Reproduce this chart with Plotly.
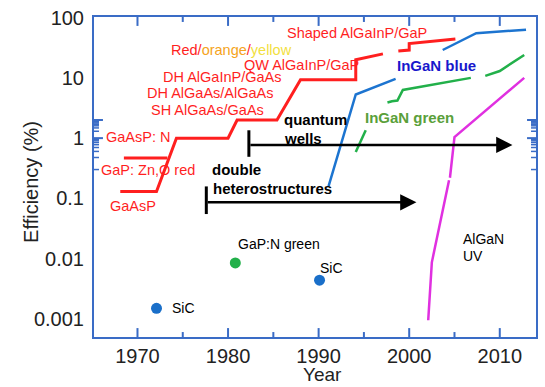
import math
import plotly.graph_objects as go

# ---------------- data ----------------
red_x = [1968.1, 1972.1, 1974.3, 1980.0, 1981.0, 1985.4, 1988.0, 1994.1, 1994.1, 1997.1, None, 1998.8, 2000.0, 2000.0, 2005.1]
red_y = [0.13, 0.13, 1.0, 1.0, 2.0, 2.0, 9.3, 9.3, 20, 25, None, 28, 29, 37, 44]

redo_x = [1968.5, 1973.3]
redo_y = [0.47, 0.47]

blue_x = [1991.1, 1994.1, 1998.5, None, 2003.7, 2007.4, 2012.9]
blue_y = [0.16, 5.3, 9.6, None, 29, 55, 63]

green_x = [1994.1, 1995.2, None, 1997.6, 1998.1, 1998.7, 1999.3, 2006.8, None, 2008.4, 2010.0, 2012.7]
green_y = [0.59, 1.35, None, 3.9, 4.1, 4.2, 6.3, 10, None, 10.8, 13, 24]

uv_x = [2002.1, 2002.5, 2004.4, None, 2004.5, 2005.0, 2012.7]
uv_y = [0.00095, 0.0087, 0.2, None, 0.22, 1.04, 10]

sic_x = [1972.1, 1990.1]
sic_y = [0.0015, 0.0044]
gapn_x = [1980.8]
gapn_y = [0.0085]

ytick_vals = [0.001, 0.01, 0.1, 1, 10, 100]
ytick_text = ["0.001", "0.01", "0.1", "1", "10", "100"]
yminor_vals = [0.0006, 0.0007, 0.0008, 0.0009,
               0.002, 0.003, 0.004, 0.005, 0.006, 0.007, 0.008, 0.009,
               0.02, 0.03, 0.04, 0.05, 0.06, 0.07, 0.08, 0.09,
               0.2, 0.3, 0.4, 0.5, 0.6, 0.7, 0.8, 0.9,
               2, 3, 4, 5, 6, 7, 8, 9,
               20, 30, 40, 50, 60, 70, 80, 90]
xtick_vals = [1970, 1980, 1990, 2000, 2010]
xminor_vals = [1975, 1985, 1995, 2005]

# arrows: (bar x, bar y0, bar y1, arrow y, arrow end x)
dh_arrow = (1977.6, 0.055, 0.158, 0.086, 2000.8)
qw_arrow = (1982.3, 0.49, 1.35, 0.77, 2011.4)

AX = "#3a6cc6"
RED = "#ff1f1f"
L = math.log10
PW, PH = 444.0, 323.0  # plot area size in px

fig = go.Figure()
fig.add_trace(go.Scatter(x=red_x, y=red_y, mode="lines", line=dict(color=RED, width=3), connectgaps=False))
fig.add_trace(go.Scatter(x=redo_x, y=redo_y, mode="lines", line=dict(color=RED, width=3)))
fig.add_trace(go.Scatter(x=blue_x, y=blue_y, mode="lines", line=dict(color="#1c74d0", width=2.5)))
fig.add_trace(go.Scatter(x=green_x, y=green_y, mode="lines", line=dict(color="#22b04a", width=2.5)))
fig.add_trace(go.Scatter(x=uv_x, y=uv_y, mode="lines", line=dict(color="#e030e0", width=2.5)))
fig.add_trace(go.Scatter(x=sic_x, y=sic_y, mode="markers", marker=dict(color="#1a6fc9", size=11)))
fig.add_trace(go.Scatter(x=gapn_x, y=gapn_y, mode="markers", marker=dict(color="#22b04a", size=11)))

# arrows and bars
for bx, by0, by1, ay, ex in (dh_arrow, qw_arrow):
    fig.add_trace(go.Scatter(x=[bx, bx], y=[by0, by1], mode="lines", line=dict(color="black", width=3)))
    fig.add_annotation(x=ex, y=L(ay), ax=bx, ay=L(ay), xref="x", yref="y", axref="x", ayref="y",
                       text="", showarrow=True, arrowhead=2, arrowsize=1.3, arrowwidth=2.5, arrowcolor="black")

# tick marks drawn inside on all four sides
def ytick(v, ln, w):
    for a, b in ((0, ln / PW), (1, 1 - ln / PW)):
        fig.add_shape(type="line", xref="paper", yref="y", x0=a, x1=b, y0=L(v), y1=L(v),
                      line=dict(color=AX, width=w), layer="above")

def xtick(v, ln, w):
    for a, b in ((0, ln / PH), (1, 1 - ln / PH)):
        fig.add_shape(type="line", xref="x", yref="paper", x0=v, x1=v, y0=a, y1=b,
                      line=dict(color=AX, width=w), layer="above")

for v in ytick_vals:
    ytick(v, 9, 2)
for v in yminor_vals:
    ytick(v, 5, 1.5)
for v in xtick_vals:
    xtick(v, 9, 2)
for v in xminor_vals:
    xtick(v, 5, 2)

def lab(text, x, ly, color="black", size=14, bold=False):
    if bold:
        text = "<b>" + text + "</b>"
    fig.add_annotation(x=x, y=ly, xref="x", yref="y", text=text, showarrow=False, xanchor="left",
                       yanchor="middle", font=dict(color=color, size=size, family="Arial"))

lab("Shaped AlGaInP/GaP", 1986.3, 1.74, RED, 14.5)
lab("Red/<span style='color:#f5a320'>orange</span>/<span style='color:#f2e040'>yellow</span>", 1973.5, 1.47, RED, 14.5)
lab("QW AlGaInP/GaP", 1981.5, 1.22, RED, 14.5)
lab("DH AlGaInP/GaAs", 1972.6, 1.01, RED, 14.5)
lab("DH AlGaAs/AlGaAs", 1970.8, 0.75, RED, 14.5)
lab("SH AlGaAs/GaAs", 1971.3, 0.459, RED, 14.5)
lab("GaAsP: N", 1966.3, 0.016, RED, 14.5)
lab("GaP: Zn,O red", 1965.7, -0.525, RED, 14.5)
lab("GaAsP", 1966.7, -1.131, RED, 14.5)
lab("double", 1978.0, -0.525, size=15, bold=True)
lab("heterostructures", 1978.1, -0.836, size=15, bold=True)
lab("quantum", 1986.0, 0.311, size=15, bold=True)
lab("wells", 1986.0, 0.0, size=15, bold=True)
lab("InGaN blue", 1998.4, 1.197, "#1818cc", 15, bold=True)
lab("InGaN green", 1994.9, 0.344, "#5aa03a", 15, bold=True)
lab("GaP:N green", 1980.9, -1.754)
lab("SiC", 1973.6, -2.82)
lab("SiC", 1989.9, -2.148)
lab("AlGaN", 2005.7, -1.672)
lab("UV", 2005.7, -1.951)

fig.add_annotation(x=-0.171, y=0.486, xref="paper", yref="paper", text="Efficiency (%)", textangle=-90,
                   showarrow=False, font=dict(size=20, color="#222", family="Arial"))
fig.add_annotation(x=0.516, y=-0.118, xref="paper", yref="paper", text="Year", yanchor="middle",
                   showarrow=False, font=dict(size=19, color="#222", family="Arial"))

fig.update_layout(
    width=545, height=387, margin=dict(l=94, r=7, t=14, b=50),
    plot_bgcolor="white", paper_bgcolor="white", showlegend=False,
    font=dict(family="Arial", color="#222"),
    xaxis=dict(range=[1965.2, 2014], tickmode="array", tickvals=xtick_vals, ticks="",
               showline=True, linecolor=AX, linewidth=2, mirror=True,
               showgrid=False, zeroline=False, tickfont=dict(size=20, color="#222")),
    yaxis=dict(type="log", range=[-3.3, 2.01], tickmode="array", tickvals=ytick_vals, ticktext=ytick_text,
               ticks="", showline=True, linecolor=AX, linewidth=2, ticklabelstandoff=4,
               mirror=True, showgrid=False, zeroline=False, tickfont=dict(size=20, color="#222")),
)

fig.write_html("out.html")
